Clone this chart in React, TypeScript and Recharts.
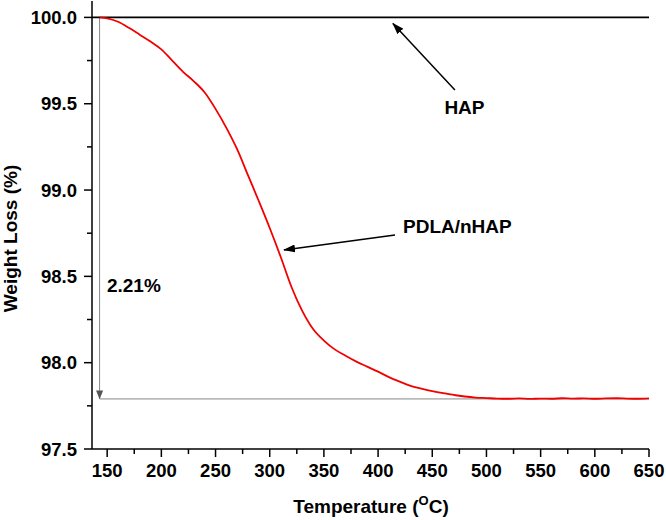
import React from 'react';
import { LineChart, Line, XAxis, YAxis, ReferenceLine, ReferenceDot } from 'recharts';

// PDLA/nHAP TGA curve (temperature in °C, weight in %)
const temperature = [
  143, 150, 160, 170, 180, 190, 200, 210, 220, 230, 240, 250, 260, 270, 280, 290, 300,
  310, 320, 330, 340, 350, 360, 370, 380, 390, 400, 410, 420, 430, 440, 450, 460, 470,
  480, 490, 500, 510, 520, 530, 540, 550, 560, 570, 580, 590, 600, 610, 620, 630, 640, 650,
];
const pdlaWeight = [
  100.0, 99.995, 99.975, 99.94, 99.9, 99.86, 99.815, 99.75, 99.685, 99.63, 99.565, 99.47,
  99.36, 99.235, 99.085, 98.935, 98.78, 98.615, 98.44, 98.3, 98.195, 98.128, 98.077, 98.04,
  98.006, 97.977, 97.948, 97.916, 97.89, 97.866, 97.85, 97.835, 97.823, 97.813, 97.804,
  97.798, 97.795, 97.792, 97.791, 97.793, 97.79, 97.792, 97.791, 97.794, 97.792, 97.793,
  97.791, 97.793, 97.794, 97.792, 97.791, 97.793,
];

// HAP curve: no weight loss
const hapTemperature = [136, 650];
const hapWeight = [100, 100];

// Annotation values
const lossStartTemp = 143;
const lossTop = 100.0;
const lossBottom = 97.79;
const lossLabel = '2.21%';

const xTicks = [150, 175, 200, 225, 250, 275, 300, 325, 350, 375, 400, 425, 450, 475, 500, 525, 550, 575, 600, 625, 650];
const xMajor = [150, 200, 250, 300, 350, 400, 450, 500, 550, 600, 650];
const yTicks = [97.5, 97.75, 98.0, 98.25, 98.5, 98.75, 99.0, 99.25, 99.5, 99.75, 100.0];
const yMajor = [97.5, 98.0, 98.5, 99.0, 99.5, 100.0];

const xDomain = [136, 650];
const yDomain = [97.5, 100.095];

const pdlaData = temperature.map((t, i) => ({ t, w: pdlaWeight[i] }));
const hapData = hapTemperature.map((t, i) => ({ t, w: hapWeight[i] }));

const FONT = '"Liberation Sans", Arial, sans-serif';

const XTick = (props: any) => {
  const { x, y, payload } = props;
  const major = xMajor.includes(payload.value);
  return (
    <g>
      <line x1={x} y1={y} x2={x} y2={y + (major ? 8 : 5)} stroke="#000" strokeWidth={1.5} />
      {major && (
        <text x={x} y={y + 28} textAnchor="middle" fontFamily={FONT} fontWeight="bold" fontSize={18.5} fill="#000">
          {payload.value}
        </text>
      )}
    </g>
  );
};

const YTick = (props: any) => {
  const { x, y, payload } = props;
  const major = yMajor.includes(payload.value);
  return (
    <g>
      <line x1={x} y1={y} x2={x - (major ? 8 : 5)} y2={y} stroke="#000" strokeWidth={1.5} />
      {major && (
        <text x={x - 15} y={y} dy="0.36em" textAnchor="end" fontFamily={FONT} fontWeight="bold" fontSize={18.5} fill="#000">
          {Number(payload.value).toFixed(1)}
        </text>
      )}
    </g>
  );
};

const arrowShape = (color: string, width: number, marker: string) => (p: any) => (
  <line x1={p.x1} y1={p.y1} x2={p.x2} y2={p.y2} stroke={color} strokeWidth={width} markerEnd={`url(#${marker})`} />
);

const plainShape = (color: string, width: number) => (p: any) => (
  <line x1={p.x1} y1={p.y1} x2={p.x2} y2={p.y2} stroke={color} strokeWidth={width} />
);

const textShape = (value: string, anchor: 'start' | 'middle' | 'end') => (p: any) => (
  <text x={p.cx} y={p.cy} dy="0.36em" textAnchor={anchor} fontFamily={FONT} fontWeight="bold" fontSize={19} fill="#000">
    {value}
  </text>
);

export default function App() {
  return (
    <div style={{ position: 'absolute', left: 0, top: 0, background: '#fff' }}>
      <LineChart width={666} height={520} margin={{ top: 1, right: 17, bottom: 21, left: 0 }}>
        <defs>
          <marker id="arrowBlack" markerWidth="12" markerHeight="8" refX="11" refY="4" orient="auto" markerUnits="userSpaceOnUse">
            <path d="M0,0 L12,4 L0,8 z" fill="#000" />
          </marker>
          <marker id="arrowGray" markerWidth="9" markerHeight="7" refX="8.5" refY="3.5" orient="auto" markerUnits="userSpaceOnUse">
            <path d="M0,0 L9,3.5 L0,7 z" fill="#555" />
          </marker>
        </defs>
        <XAxis
          dataKey="t"
          type="number"
          domain={xDomain}
          allowDataOverflow
          ticks={xTicks}
          interval={0}
          tickSize={0}
          tickMargin={0}
          tickLine={false}
          tick={<XTick />}
          axisLine={{ stroke: '#000', strokeWidth: 1.5 }}
          height={50}
        />
        <XAxis
          xAxisId="top"
          dataKey="t"
          type="number"
          domain={xDomain}
          allowDataOverflow
          orientation="top"
          height={0}
          tick={false}
          tickLine={false}
          axisLine={{ stroke: '#000', strokeWidth: 1.5 }}
        />
        <YAxis
          type="number"
          domain={yDomain}
          allowDataOverflow
          ticks={yTicks}
          interval={0}
          tickSize={0}
          tickMargin={0}
          tickLine={false}
          tick={<YTick />}
          axisLine={{ stroke: '#000', strokeWidth: 1.5 }}
          width={92}
        />
        <YAxis
          yAxisId="right"
          type="number"
          domain={yDomain}
          allowDataOverflow
          orientation="right"
          width={0}
          tick={false}
          tickLine={false}
          axisLine={{ stroke: '#000', strokeWidth: 1.5 }}
        />
        <ReferenceLine
          segment={[{ x: lossStartTemp, y: lossBottom }, { x: 650, y: lossBottom }]}
          shape={plainShape('#888', 1)}
        />
        <ReferenceLine
          segment={[{ x: lossStartTemp, y: lossTop }, { x: lossStartTemp, y: lossBottom }]}
          shape={arrowShape('#888', 1, 'arrowGray')}
        />
        <Line
          data={hapData}
          dataKey="w"
          stroke="#000"
          strokeWidth={1.6}
          dot={false}
          isAnimationActive={false}
        />
        <Line
          data={pdlaData}
          dataKey="w"
          type="monotone"
          stroke="#f20000"
          strokeWidth={1.8}
          dot={false}
          isAnimationActive={false}
        />
        <ReferenceLine
          segment={[{ x: 470.9, y: 99.579 }, { x: 413.7, y: 99.965 }]}
          shape={arrowShape('#000', 1.5, 'arrowBlack')}
        />
        <ReferenceLine
          segment={[{ x: 415.6, y: 98.74 }, { x: 313.2, y: 98.653 }]}
          shape={arrowShape('#000', 1.5, 'arrowBlack')}
        />
        <ReferenceDot x={479.7} y={99.481} r={0} shape={textShape('HAP', 'middle')} />
        <ReferenceDot x={423} y={98.788} r={0} shape={textShape('PDLA/nHAP', 'start')} />
        <ReferenceDot x={149.8} y={98.45} r={0} shape={textShape(lossLabel, 'start')} />
        <text x={371} y={513} textAnchor="middle" fontFamily={FONT} fontWeight="bold" fontSize={19} fill="#000">
          Temperature (
          <tspan fontSize={13} dy={-8}>O</tspan>
          <tspan dy={8}>C)</tspan>
        </text>
        <text transform="translate(17,238.5) rotate(-90)" textAnchor="middle" fontFamily={FONT} fontWeight="bold" fontSize={19} fill="#000">
          Weight Loss (%)
        </text>
      </LineChart>
    </div>
  );
}
